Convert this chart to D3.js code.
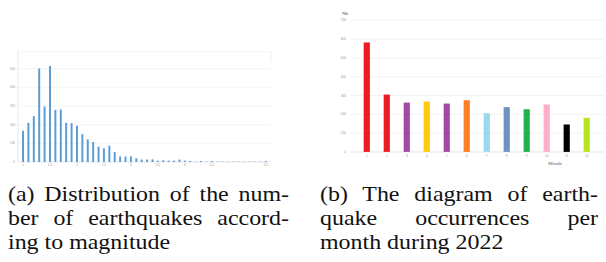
<!DOCTYPE html>
<html>
<head>
<meta charset="utf-8">
<script src="https://cdn.jsdelivr.net/npm/d3@7"></script>
<style>
  body { margin: 0; background: #fff; }
  svg { display: block; }
</style>
</head>
<body>
<svg id="fig" width="606" height="262"></svg>
<script>
// (a) number of earthquakes by magnitude (0.1 steps)
const magnitudes = d3.range(46).map(i => (1 + i / 10).toFixed(1));
const magCounts = [165, 208, 243, 499, 295, 512, 277, 279, 208, 206,
                   192, 147, 119, 105, 80, 71, 85, 52, 27, 27,
                   28, 18, 11, 11, 12, 5, 7, 5, 5, 11,
                   5, 3, 0, 3, 0, 3, 0, 0, 0, 0,
                   0, 0, 0, 0, 0, 3];
const magTickIdx = [0, 5, 10, 15, 20, 25, 30, 35, 45];
const magYTicks = [0, 100, 200, 300, 400, 500];

// (b) earthquakes per month in 2022
const months = ["1", "2", "3", "4", "5", "6", "7", "8", "9", "10", "11", "12"];
const monthCounts = [583, 306, 263, 269, 258, 276, 207, 239, 228, 253, 147, 182];
const monthColors = ["#ed1c24", "#ed1c24", "#a349a4", "#ffc90e", "#a349a4", "#ff7f27",
                     "#99d9ea", "#7092be", "#22b14c", "#ffaec9", "#000000", "#b5e61d"];
const monthYTicks = [0, 100, 200, 300, 400, 500, 600, 700];

const captionA = ["(a) Distribution of the num-", "ber of earthquakes accord-", "ing to magnitude"];
const captionB = ["(b) The diagram of earth-", "quake occurrences per", "month during 2022"];

const svg = d3.select("#fig");

// ---- chart (a)
const xa = d3.scaleBand().domain(magnitudes).range([18.6, 270.2]).padding(0.64);
const ya = d3.scaleLinear().domain([0, 600]).range([162, 50]);

const ga = svg.append("g");
ga.selectAll("line.grid")
  .data(magYTicks.slice(1))
  .enter().append("line")
  .attr("x1", 18).attr("x2", 271)
  .attr("y1", d => ya(d)).attr("y2", d => ya(d))
  .attr("stroke", "#ececec").attr("stroke-width", 0.6);
// plot frame (top + right stub)
ga.append("line").attr("x1", 18).attr("x2", 271).attr("y1", 51.5).attr("y2", 51.5)
  .attr("stroke", "#f0f0f0").attr("stroke-width", 0.6);
ga.append("line").attr("x1", 271).attr("x2", 271).attr("y1", 51.5).attr("y2", 62)
  .attr("stroke", "#e4e4e4").attr("stroke-width", 0.6);
ga.append("line").attr("x1", 18).attr("x2", 18).attr("y1", 51.5).attr("y2", 162)
  .attr("stroke", "#d6d6d6").attr("stroke-width", 0.6);
ga.append("line").attr("x1", 18).attr("x2", 271).attr("y1", 162).attr("y2", 162)
  .attr("stroke", "#d6d6d6").attr("stroke-width", 0.6);

ga.selectAll("rect.bar")
  .data(magCounts)
  .enter().append("rect")
  .attr("x", (d, i) => xa(magnitudes[i]))
  .attr("width", xa.bandwidth())
  .attr("y", d => ya(d) - 0.4)
  .attr("height", d => ya(0) - ya(d) + 0.4)
  .attr("fill", "#5b9bd5");

ga.selectAll("text.yl")
  .data(magYTicks)
  .enter().append("text")
  .attr("x", 15).attr("y", d => ya(d) + 1)
  .attr("text-anchor", "end")
  .attr("font-family", "Liberation Sans, sans-serif")
  .attr("font-size", 3).attr("fill", "#999")
  .text(d => d);

ga.selectAll("text.xl")
  .data(magTickIdx)
  .enter().append("text")
  .attr("x", i => xa(magnitudes[i]) + xa.bandwidth() / 2)
  .attr("y", 166)
  .attr("text-anchor", "middle")
  .attr("font-family", "Liberation Sans, sans-serif")
  .attr("font-size", 3).attr("fill", "#999")
  .text(i => +magnitudes[i]);

// ---- chart (b)
const xb = d3.scaleBand().domain(months).range([350, 603.5]).padding(0.68);
const yb = d3.scaleLinear().domain([0, 700]).range([152, 20.3]);

const gb = svg.append("g");
gb.selectAll("line.grid")
  .data(monthYTicks.slice(1))
  .enter().append("line")
  .attr("x1", 350).attr("x2", 604)
  .attr("y1", d => yb(d)).attr("y2", d => yb(d))
  .attr("stroke", "#ececec").attr("stroke-width", 0.7);
gb.append("line").attr("x1", 350).attr("x2", 604).attr("y1", 152).attr("y2", 152)
  .attr("stroke", "#d9d9d9").attr("stroke-width", 0.7);

gb.selectAll("rect.bar")
  .data(monthCounts)
  .enter().append("rect")
  .attr("x", (d, i) => xb(months[i]))
  .attr("width", xb.bandwidth())
  .attr("y", d => yb(d))
  .attr("height", d => yb(0) - yb(d))
  .attr("fill", (d, i) => monthColors[i])
  .attr("stroke", "#fff").attr("stroke-opacity", 0.5).attr("stroke-width", 0.4);

gb.selectAll("text.yl")
  .data(monthYTicks)
  .enter().append("text")
  .attr("x", 346).attr("y", d => yb(d) + 1)
  .attr("text-anchor", "end")
  .attr("font-family", "Liberation Sans, sans-serif")
  .attr("font-size", 3.2).attr("fill", "#999")
  .text(d => d);

gb.selectAll("text.xl")
  .data(months)
  .enter().append("text")
  .attr("x", d => xb(d) + xb.bandwidth() / 2)
  .attr("y", 157)
  .attr("text-anchor", "middle")
  .attr("font-family", "Liberation Sans, sans-serif")
  .attr("font-size", 3.2).attr("fill", "#999")
  .text(d => d);

gb.append("text").attr("x", 342).attr("y", 15)
  .attr("font-family", "Liberation Serif, serif").attr("font-size", 5).attr("fill", "#444")
  .text("Nb");
gb.append("text").attr("x", 555).attr("y", 165)
  .attr("text-anchor", "middle")
  .attr("font-family", "Liberation Serif, serif").attr("font-size", 5).attr("fill", "#555")
  .text("Month");

// ---- captions: Times-like face, slightly widened, justified by word spacing
const capScaleX = 1.14;
function caption(lines, x0, width, y0) {
  lines.forEach((line, i) => {
    const g = svg.append("g")
      .attr("transform", `translate(${x0},${y0 + i * 24}) scale(${capScaleX},1)`);
    const t = g.append("text")
      .style("font-family", "'Liberation Serif', 'Times New Roman', serif")
      .style("font-size", "21px")
      .attr("fill", "#111")
      .text(line);
    if (i < lines.length - 1) {
      const gaps = line.split(" ").length - 1;
      const w = t.node().getComputedTextLength();
      if (gaps > 0) t.style("word-spacing", ((width / capScaleX - w) / gaps) + "px");
    }
  });
}
caption(captionA, 8, 281, 201);
caption(captionB, 320, 278, 201);
</script>
</body>
</html>
